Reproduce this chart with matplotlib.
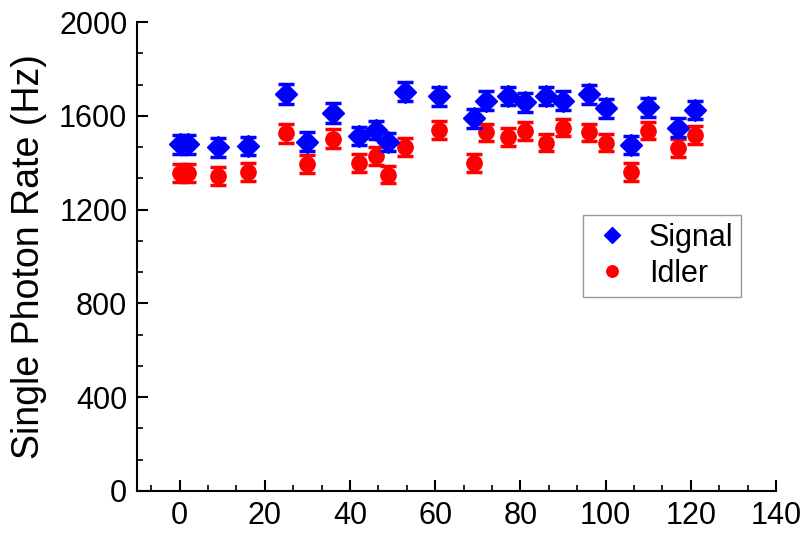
import matplotlib.pyplot as plt
from matplotlib.ticker import MultipleLocator

plt.rcParams['font.family'] = ['Liberation Sans', 'DejaVu Sans']

# positions (x values) shared by both series
x_pos = [0, 2, 9, 16, 25, 30, 36, 42, 46, 49, 53, 61, 69, 72, 77, 81,
         86, 90, 96, 100, 106, 110, 117, 121]

signal = [1478, 1478, 1466, 1471, 1692, 1490, 1611, 1514, 1539, 1490, 1703, 1683,
          1589, 1665, 1684, 1657, 1684, 1665, 1692, 1632, 1475, 1636, 1549, 1625]
signal_err = [40, 40, 40, 40, 42, 40, 42, 38, 40, 38, 42, 40,
              40, 42, 40, 40, 40, 40, 40, 40, 38, 40, 40, 40]

idler = [1357, 1357, 1343, 1362, 1526, 1395, 1503, 1397, 1427, 1348, 1467, 1540,
         1398, 1529, 1511, 1536, 1486, 1550, 1529, 1486, 1359, 1537, 1462, 1518]
idler_err = [38, 38, 38, 38, 40, 38, 40, 38, 38, 36, 38, 38,
             38, 38, 38, 38, 38, 38, 38, 38, 38, 38, 38, 38]

fig = plt.figure(figsize=(8.06, 5.34), dpi=100)
ax = fig.add_axes([137/806, 1 - 491/534, 639/806, 469/534])

ax.errorbar(x_pos, signal, yerr=signal_err, fmt='D', color='blue', ms=11.5,
            elinewidth=2, capsize=6, capthick=2.5, label='Signal', zorder=3)
ax.errorbar(x_pos, idler, yerr=idler_err, fmt='o', color='red', ms=11,
            elinewidth=2, capsize=6, capthick=2.5, label='Idler', zorder=2)

ax.set_xlim(-10, 140)
ax.set_ylim(0, 2000)
ax.xaxis.set_major_locator(MultipleLocator(20))
ax.xaxis.set_minor_locator(MultipleLocator(20 / 3))
ax.yaxis.set_major_locator(MultipleLocator(400))
ax.yaxis.set_minor_locator(MultipleLocator(400 / 3))
ax.tick_params(which='major', direction='in', length=8, width=1.5, labelsize=22, pad=7)
ax.tick_params(which='minor', direction='in', length=4, width=1.2)
ax.tick_params(top=False, right=False)

for side in ['top', 'right']:
    ax.spines[side].set_visible(False)
for side in ['left', 'bottom']:
    ax.spines[side].set_linewidth(1.5)

ax.set_ylabel('Single Photon Rate (Hz)', fontsize=27, labelpad=9)

h, l = ax.get_legend_handles_labels()
h = [hh[0] for hh in h]
leg = ax.legend(h, l, loc='upper left', bbox_to_anchor=(0.698, 0.588), fontsize=22,
                frameon=True, fancybox=False, edgecolor='gray', markerscale=0.75,
                handletextpad=0.5, borderpad=0.25, labelspacing=0.2, handlelength=1.4,
                borderaxespad=0)
leg.get_frame().set_linewidth(1)

fig.savefig('out.png', dpi=100)
